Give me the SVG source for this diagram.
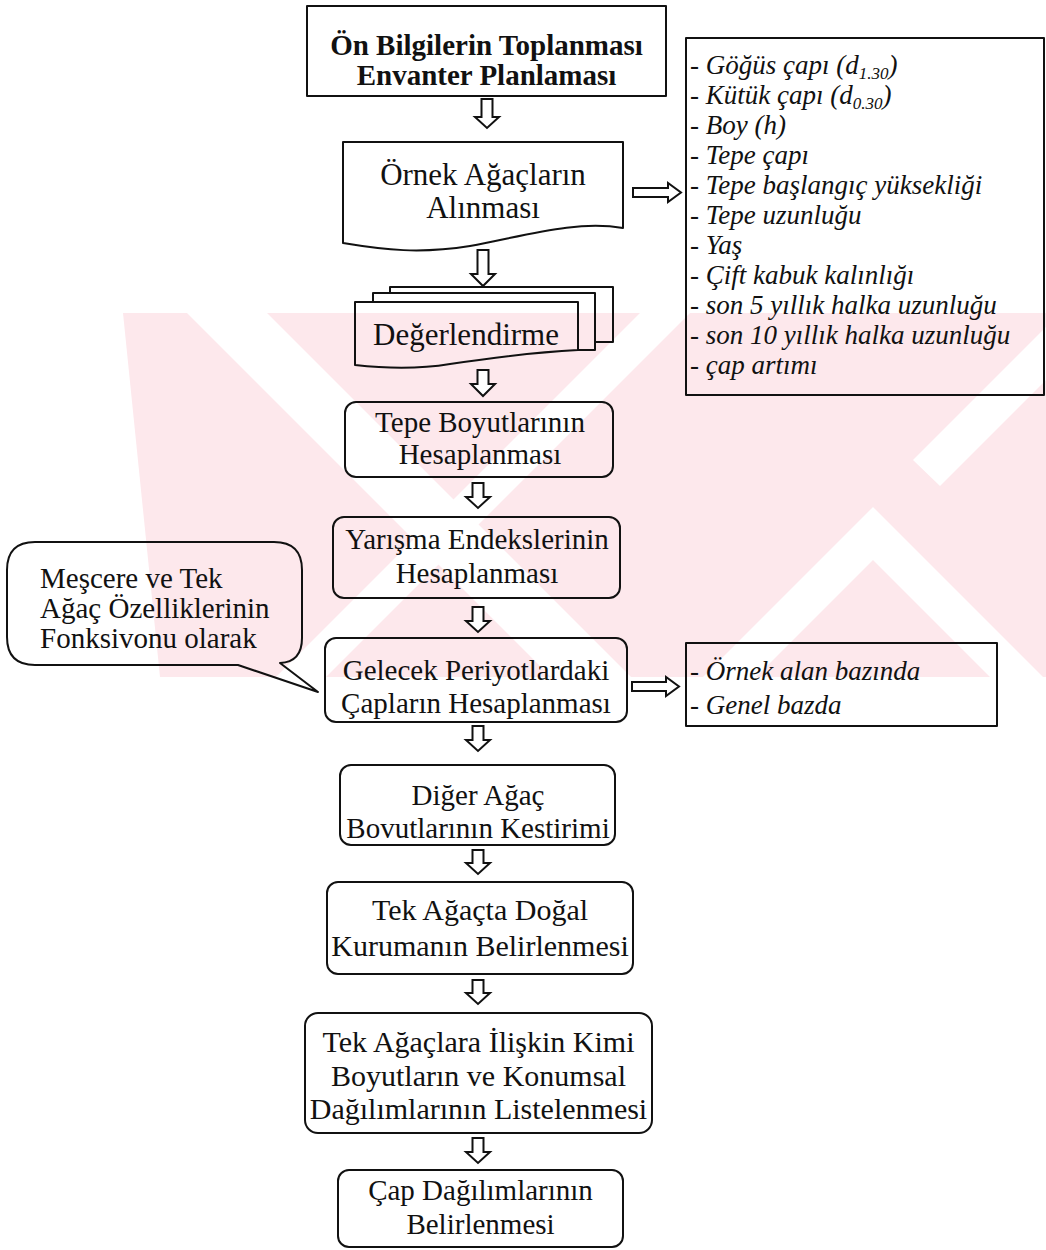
<svg xmlns="http://www.w3.org/2000/svg" width="1046" height="1250" viewBox="0 0 1046 1250">
<style>
.t{font-family:"Liberation Serif","Times New Roman",serif;fill:#111;text-anchor:middle;font-size:29px}
.b{font-weight:bold}
.l{font-family:"Liberation Serif","Times New Roman",serif;fill:#111;font-style:italic;font-size:27px}
.c{font-family:"Liberation Serif","Times New Roman",serif;fill:#111;font-size:29px}
.s{fill:none;stroke:#111;stroke-width:2;stroke-linejoin:round}
.ar{fill:#fff;stroke:#111;stroke-width:2;stroke-linejoin:miter}
.wm{fill:#fde8ec}
.wh{fill:#fff}
</style>
<rect width="1046" height="1250" fill="#fff"/>
<g id="watermark">
<polygon class="wm" points="123,313 1046,313 1046,677 160,677"/>
<polygon class="wh" points="187,313 267,313 631,677 551,677"/>
<polygon class="wh" points="640,313 690,313 326,677 276,677"/>
<polygon class="wh" points="913,460 1046,327 1046,380 940,486"/>
<polygon class="wh" points="873,507 1043,677 990,677 873,560 756,677 703,677"/>
</g>
<g id="connectors">
<path class="ar" d="M481.5,99 H492.5 V117 H499 L487,128 L475,117 H481.5 Z"/>
<path class="ar" d="M477.5,250 H488.5 V274 H495 L483,286 L471,274 H477.5 Z"/>
<path class="ar" d="M477.5,370 H488.5 V384 H495 L483,396 L471,384 H477.5 Z"/>
<path class="ar" d="M472.5,483 H483.5 V497 H490 L478,508 L466,497 H472.5 Z"/>
<path class="ar" d="M472.5,607 H483.5 V621 H490 L478,632 L466,621 H472.5 Z"/>
<path class="ar" d="M472.5,726 H483.5 V740 H490 L478,751 L466,740 H472.5 Z"/>
<path class="ar" d="M472.5,850 H483.5 V863 H490 L478,874 L466,863 H472.5 Z"/>
<path class="ar" d="M472.5,980 H483.5 V993 H490 L478,1004 L466,993 H472.5 Z"/>
<path class="ar" d="M472.5,1138 H483.5 V1152 H490 L478,1163 L466,1152 H472.5 Z"/>
<path class="ar" d="M633,188 H668 V183 L681,192.5 L668,202 V197 H633 Z"/>
<path class="ar" d="M632,682 H666 V677 L679,686.5 L666,696 V691 H632 Z"/>
</g>
<g id="n1">
<rect class="s" x="307" y="6" width="359" height="90"/>
<text class="t b" x="486.5" y="55">Ön Bilgilerin Toplanması</text>
<text class="t b" x="486.5" y="85">Envanter Planlaması</text>
</g>
<g id="n2">
<path class="s" d="M343,142 H623 V228 C575,220 525,236 470,246 C420,254 385,250 343,243 Z"/>
<text class="t" style="font-size:31px" x="483" y="185">Örnek Ağaçların</text>
<text class="t" style="font-size:31px" x="483" y="218">Alınması</text>
</g>
<g id="list1">
<rect class="s" x="686" y="38" width="358" height="357"/>
<text class="l" x="690" y="74">- Göğüs çapı (d<tspan font-size="17" dy="5">1.30</tspan><tspan dy="-5">)</tspan></text>
<text class="l" x="690" y="104">- Kütük çapı (d<tspan font-size="17" dy="5">0.30</tspan><tspan dy="-5">)</tspan></text>
<text class="l" x="690" y="134">- Boy (h)</text>
<text class="l" x="690" y="164">- Tepe çapı</text>
<text class="l" x="690" y="194">- Tepe başlangıç yüksekliği</text>
<text class="l" x="690" y="224">- Tepe uzunluğu</text>
<text class="l" x="690" y="254">- Yaş</text>
<text class="l" x="690" y="284">- Çift kabuk kalınlığı</text>
<text class="l" x="690" y="314">- son 5 yıllık halka uzunluğu</text>
<text class="l" x="690" y="344">- son 10 yıllık halka uzunluğu</text>
<text class="l" x="690" y="374">- çap artımı</text>
</g>
<g id="n3">
<path class="s" d="M390,293 V287 H613 V342 H595"/>
<path class="s" d="M373,302 V293 H595 V350 H578"/>
<path class="s" d="M355,302 H578 V350 C540,352 490,358 450,364 C420,369 390,369 355,365 Z"/>
<text class="t" style="font-size:31px" x="466" y="345">Değerlendirme</text>
</g>
<g id="n4">
<rect class="s" x="345" y="402" width="268" height="75" rx="11"/>
<text class="t" x="480" y="432">Tepe Boyutlarının</text>
<text class="t" x="480" y="464">Hesaplanması</text>
</g>
<g id="n5">
<rect class="s" x="333" y="517" width="287" height="81" rx="11"/>
<text class="t" x="477" y="549">Yarışma Endekslerinin</text>
<text class="t" x="477" y="583">Hesaplanması</text>
</g>
<g id="callout">
<path class="s" d="M35,542 H274 Q302,542 302,570 V638 Q302,662 280,663 L318,692 L238,665 H35 Q7,665 7,637 V570 Q7,542 35,542 Z"/>
<text class="c" x="40" y="588">Meşcere ve Tek</text>
<text class="c" x="40" y="618">Ağaç Özelliklerinin</text>
<text class="c" x="40" y="648">Fonksivonu olarak</text>
</g>
<g id="n6">
<rect class="s" x="325" y="638" width="302" height="84" rx="11"/>
<text class="t" x="476" y="680">Gelecek Periyotlardaki</text>
<text class="t" x="476" y="713">Çapların Hesaplanması</text>
</g>
<g id="list2">
<rect class="s" x="686" y="643" width="311" height="83"/>
<text class="l" x="690" y="680">- Örnek alan bazında</text>
<text class="l" x="690" y="714">- Genel bazda</text>
</g>
<g id="n7">
<rect class="s" x="340" y="765" width="275" height="80" rx="11"/>
<text class="t" x="478" y="805">Diğer Ağaç</text>
<text class="t" x="478" y="838">Bovutlarının Kestirimi</text>
</g>
<g id="n8">
<rect class="s" x="327" y="882" width="306" height="92" rx="11"/>
<text class="t" style="font-size:30px" x="480" y="920">Tek Ağaçta Doğal</text>
<text class="t" style="font-size:30px" x="480" y="956">Kurumanın Belirlenmesi</text>
</g>
<g id="n9">
<rect class="s" x="305" y="1013" width="347" height="120" rx="13"/>
<text class="t" style="font-size:30px" x="478.5" y="1052">Tek Ağaçlara İlişkin Kimi</text>
<text class="t" style="font-size:30px" x="478.5" y="1086">Boyutların ve Konumsal</text>
<text class="t" style="font-size:30px" x="478.5" y="1119">Dağılımlarının Listelenmesi</text>
</g>
<g id="n10">
<rect class="s" x="338" y="1170" width="285" height="77" rx="11"/>
<text class="t" x="480.5" y="1200">Çap Dağılımlarının</text>
<text class="t" x="480.5" y="1234">Belirlenmesi</text>
</g>
</svg>
